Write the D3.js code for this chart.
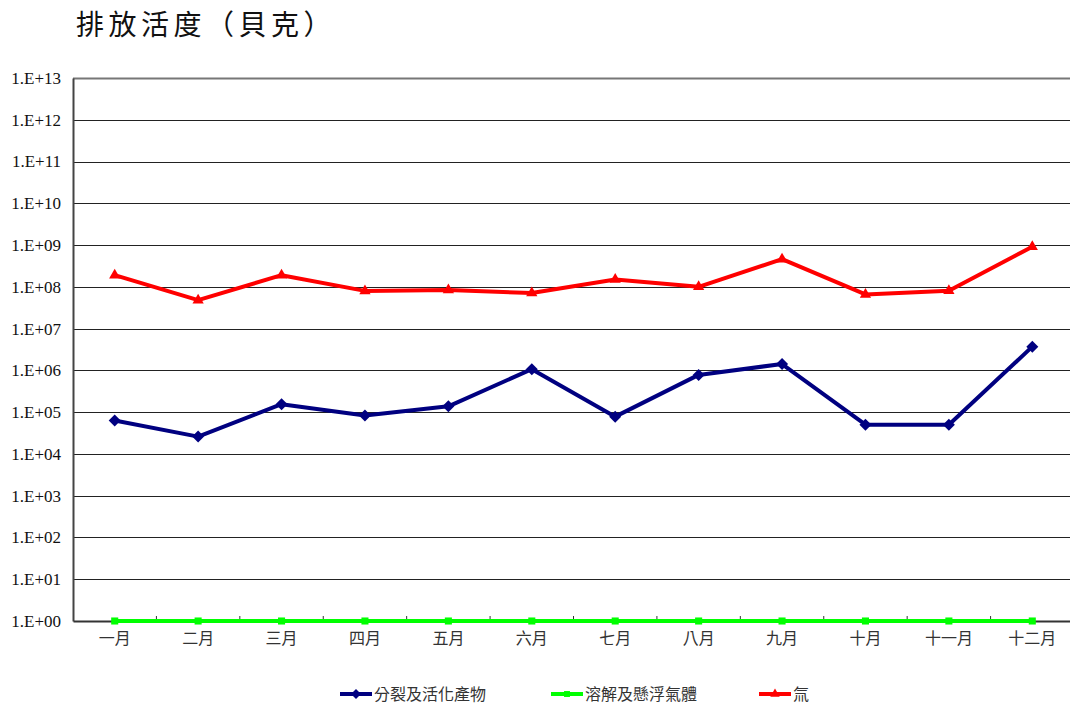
<!DOCTYPE html>
<html><head><meta charset="utf-8">
<script src="https://cdn.jsdelivr.net/npm/d3@7"></script>
<style>body{margin:0;background:#fff;} svg{display:block;}</style>
</head><body>
<svg id="c" width="1070" height="705"></svg>
<script>
const months = ["一月","二月","三月","四月","五月","六月","七月","八月","九月","十月","十一月","十二月"];
const fission = [6.3e4, 2.6e4, 1.55e5, 8.3e4, 1.38e5, 1.07e6, 7.8e4, 7.8e5, 1.42e6, 5.0e4, 5.0e4, 3.7e6];
const aerosol = [1,1,1,1,1,1,1,1,1,1,1,1];
const noble = [1.9e8, 4.8e7, 1.9e8, 8.0e7, 8.4e7, 7.1e7, 1.5e8, 1.0e8, 4.6e8, 6.6e7, 8.1e7, 9.1e8];
const yTicks = [1e0,1e1,1e2,1e3,1e4,1e5,1e6,1e7,1e8,1e9,1e10,1e11,1e12,1e13];
const seriesNames = ["分裂及活化產物","溶解及懸浮氣體","氚"];

const svg = d3.select("#c");
const L=73, R=1074, T=78, B=621;
const x = d3.scaleBand().domain(months).range([L,R]);
const y = d3.scaleLog().domain([1,1e13]).range([B,T]);
const fmt = v => "1.E+" + String(Math.round(Math.log10(v))).padStart(2,"0");

// title
svg.append("text").attr("x",76).attr("y",35).attr("font-family","Noto Sans CJK TC").attr("font-size",28)
  .attr("letter-spacing",4.5).attr("fill","#111").text("排放活度（貝克）");

// gridlines
svg.append("g").selectAll("line").data(yTicks.slice(1)).join("line")
  .attr("x1",L).attr("x2",1070).attr("y1",d=>Math.round(y(d))+0.5).attr("y2",d=>Math.round(y(d))+0.5)
  .attr("stroke",d=>d===1e13?"#777":"#222").attr("stroke-width",d=>d===1e13?2:1);

// y axis
const yAxis = d3.axisLeft(y).tickValues(yTicks).tickFormat(fmt).tickSize(0).tickPadding(12);
const gy = svg.append("g").attr("transform",`translate(${L},0)`).call(yAxis);
gy.select(".domain").attr("stroke","#444").attr("stroke-width",2);
gy.selectAll("text").attr("font-family","Liberation Serif").attr("font-size",17).attr("fill","#111");

// x axis
const xAxis = d3.axisBottom(x).tickSize(0).tickPadding(12);
const gx = svg.append("g").attr("transform",`translate(0,${B})`).call(xAxis);
gx.select(".domain").attr("stroke","#333").attr("stroke-width",2);
gx.selectAll("text").attr("font-family","Noto Sans CJK TC").attr("font-size",16).attr("fill","#333");
// category separator ticks
svg.append("g").selectAll("line").data(months.slice(1)).join("line")
  .attr("x1",d=>x(d)).attr("x2",d=>x(d)).attr("y1",B-5).attr("y2",B)
  .attr("stroke","#333").attr("stroke-width",1);

const cx = d => x(d)+x.bandwidth()/2;
const series = [
  {name:seriesNames[0], vals:fission, color:"#000080", sym:d3.symbolSquare, size:72, rot:45},
  {name:seriesNames[1], vals:aerosol, color:"#00ff00", sym:d3.symbolSquare, size:50, rot:0},
  {name:seriesNames[2], vals:noble, color:"#ff0000", sym:d3.symbolTriangle, size:55, rot:0}
];
const line = d3.line().x((d,i)=>cx(months[i])).y(d=>y(d));
series.forEach(s=>{
  const g = svg.append("g");
  g.append("path").datum(s.vals).attr("d",line).attr("fill","none").attr("stroke",s.color).attr("stroke-width",4)
    .attr("stroke-linejoin","round");
  g.selectAll("path.m").data(s.vals).join("path").attr("class","m")
    .attr("d",d3.symbol().type(s.sym).size(s.size))
    .attr("transform",(d,i)=>`translate(${cx(months[i])},${y(d)}) rotate(${s.rot})`)
    .attr("fill",s.color);
});

// legend
const legX = [340,551,759];
series.forEach((s,i)=>{
  const g = svg.append("g").attr("transform",`translate(${legX[i]},694)`);
  g.append("line").attr("x1",0).attr("x2",32).attr("stroke",s.color).attr("stroke-width",4);
  g.append("path").attr("d",d3.symbol().type(s.sym).size(s.size*0.7)).attr("transform",`translate(16,0) rotate(${s.rot})`).attr("fill",s.color);
  g.append("text").attr("x",34).attr("y",0).attr("dy","0.35em").attr("font-family","Noto Sans CJK TC")
    .attr("font-size",16).attr("fill","#333").text(s.name);
});
</script>
</body></html>
